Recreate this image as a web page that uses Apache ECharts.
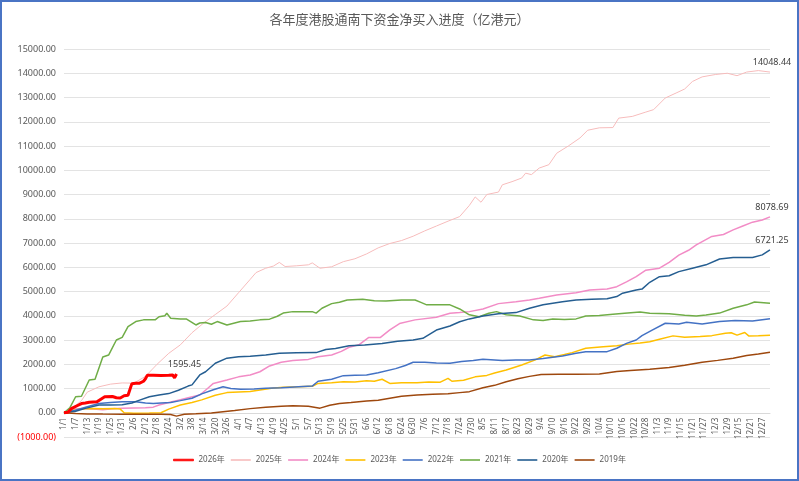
<!DOCTYPE html>
<html>
<head>
<meta charset="utf-8">
<script src="https://cdn.jsdelivr.net/npm/echarts@6/dist/echarts.min.js"></script>
<style>
  html, body { margin: 0; padding: 0; background: #fff; }
  #box { width: 799px; height: 481px; box-sizing: border-box; border: 2px solid #4a74c4; }
  #chart { width: 795px; height: 477px; }
</style>
</head>
<body>
<div id="box"><div id="chart"></div></div>
<script>
// 日期类目 (非闰年)
const monthDays = [31, 28, 31, 30, 31, 30, 31, 31, 30, 31, 30, 31]
const days = []
monthDays.forEach((n, m) => {
  for (let d = 1; d <= n; d++) days.push((m + 1) + '/' + d)
})

const years = ['2026年', '2025年', '2024年', '2023年', '2022年', '2021年', '2020年', '2019年']

// [日序号, 累计净买入(亿港元)]
const s2026 = [[0,0],[2,20],[4,180],[5,260],[7,300],[9,380],[11,400],[13,430],[15,440],[17,450],[19,560],[21,660],[25,670],[27,620],[29,610],[31,700],[33,720],[35,1200],[37,1220],[39,1220],[41,1300],[42,1400],[43,1550],[46,1550],[50,1540],[54,1550],[56,1560],[57,1440],[58,1595.45]]

const s2025 = [[0,0],[6,300],[9,500],[12,850],[18,1070],[24,1180],[30,1230],[36,1220],[42,1500],[48,2000],[54,2450],[60,2800],[66,3300],[72,3700],[78,4050],[84,4400],[90,4950],[96,5500],[99,5780],[104,5960],[108,6050],[111,6200],[114,6030],[120,6060],[126,6100],[128,6180],[132,5960],[138,6020],[144,6230],[150,6350],[156,6550],[162,6800],[168,6980],[174,7100],[180,7280],[186,7500],[192,7700],[198,7900],[204,8090],[209,8550],[212,8900],[215,8680],[218,9000],[224,9100],[226,9400],[231,9530],[236,9680],[238,9880],[241,9820],[245,10090],[250,10230],[254,10700],[260,11000],[266,11330],[270,11650],[276,11750],[283,11760],[286,12150],[293,12220],[300,12400],[304,12500],[310,12980],[316,13200],[320,13350],[324,13660],[329,13850],[336,13950],[342,14000],[347,13900],[352,14050],[358,14110],[364,14048.44]]

const s2024 = [[0,0],[5,150],[10,180],[15,150],[20,120],[25,160],[30,190],[36,200],[42,210],[46,230],[49,320],[54,420],[59,520],[64,620],[70,730],[74,1000],[77,1210],[84,1350],[90,1480],[96,1560],[101,1690],[106,1930],[112,2080],[118,2150],[126,2200],[131,2310],[138,2380],[143,2530],[147,2700],[152,2800],[157,3100],[163,3100],[168,3420],[173,3680],[181,3830],[192,3940],[199,4100],[204,4130],[209,4170],[216,4280],[224,4500],[233,4580],[240,4650],[245,4720],[254,4860],[264,4950],[271,5060],[280,5100],[285,5200],[290,5400],[295,5610],[300,5880],[307,5960],[312,6200],[317,6500],[322,6700],[326,6920],[330,7100],[334,7270],[340,7350],[345,7540],[350,7700],[355,7860],[360,7950],[364,8078.69]]

const s2023 = [[0,0],[4,80],[8,150],[14,180],[20,170],[26,180],[29,150],[31,0],[36,-20],[44,-10],[50,0],[54,150],[60,320],[66,420],[71,530],[78,720],[84,830],[90,860],[96,880],[101,940],[107,1010],[113,1050],[121,1070],[128,1090],[131,1210],[138,1240],[144,1280],[150,1270],[156,1320],[160,1300],[164,1380],[168,1210],[174,1240],[182,1240],[188,1270],[194,1260],[198,1420],[200,1300],[206,1340],[212,1480],[218,1540],[222,1640],[228,1760],[236,1970],[243,2180],[248,2380],[253,2310],[258,2400],[262,2480],[269,2660],[278,2720],[285,2760],[291,2830],[297,2880],[302,2930],[307,3030],[314,3170],[320,3110],[328,3140],[334,3180],[341,3280],[344,3300],[347,3200],[351,3310],[353,3170],[358,3180],[364,3200]]

const s2022 = [[0,0],[6,100],[12,250],[18,380],[24,420],[30,450],[37,450],[42,400],[46,380],[50,400],[55,420],[60,500],[66,600],[71,780],[77,950],[82,1070],[86,1000],[91,970],[98,980],[104,1010],[112,1030],[121,1070],[128,1100],[131,1300],[138,1380],[144,1530],[150,1550],[156,1560],[162,1650],[171,1820],[176,1950],[180,2080],[186,2080],[192,2050],[199,2040],[205,2110],[211,2150],[216,2210],[226,2150],[233,2180],[240,2180],[247,2240],[257,2340],[264,2450],[269,2520],[280,2520],[285,2660],[290,2860],[295,3000],[298,3180],[303,3400],[310,3690],[317,3660],[321,3730],[329,3660],[338,3760],[346,3800],[355,3780],[364,3880]]

const s2021 = [[0,0],[3,200],[6,660],[9,680],[13,1350],[16,1380],[20,2300],[23,2380],[27,3000],[30,3110],[33,3550],[37,3760],[41,3830],[47,3830],[49,3960],[52,4000],[53,4100],[55,3900],[60,3870],[63,3870],[68,3620],[70,3700],[73,3720],[76,3650],[79,3760],[84,3620],[87,3680],[91,3760],[96,3780],[101,3830],[106,3860],[110,3980],[113,4110],[118,4170],[128,4170],[130,4110],[133,4310],[138,4500],[142,4560],[146,4650],[154,4680],[160,4620],[166,4610],[174,4650],[181,4650],[184,4550],[187,4450],[193,4450],[199,4450],[204,4280],[209,4040],[214,3960],[219,4100],[223,4170],[228,4040],[235,3990],[242,3830],[247,3800],[252,3870],[258,3850],[264,3870],[269,3990],[276,4010],[283,4060],[289,4100],[297,4150],[302,4100],[312,4080],[320,4020],[326,3990],[331,4030],[338,4110],[345,4310],[352,4450],[356,4570],[364,4520]]

const s2020 = [[0,0],[6,60],[11,180],[18,320],[24,320],[30,330],[35,400],[39,520],[44,660],[49,730],[54,790],[59,930],[64,1100],[66,1150],[70,1560],[73,1690],[78,2040],[84,2250],[90,2310],[96,2330],[104,2380],[111,2450],[120,2470],[130,2480],[135,2610],[140,2650],[147,2760],[155,2790],[164,2860],[172,2950],[180,3000],[185,3070],[192,3410],[199,3580],[204,3750],[209,3870],[216,3990],[224,4080],[233,4130],[240,4310],[247,4450],[257,4580],[264,4650],[272,4680],[280,4700],[285,4790],[288,4930],[295,5060],[298,5100],[302,5380],[307,5610],[312,5650],[317,5820],[324,5960],[331,6100],[338,6340],[345,6400],[355,6400],[360,6510],[364,6721.25]]

const s2019 = [[0,0],[6,-30],[12,-50],[20,-55],[30,-60],[40,-60],[50,-60],[55,-70],[58,-140],[62,-60],[68,-40],[76,-10],[82,40],[88,90],[96,170],[104,230],[112,270],[118,290],[126,270],[132,190],[137,310],[142,380],[148,420],[156,480],[162,520],[168,600],[174,680],[182,730],[190,760],[198,780],[204,830],[209,870],[216,1030],[222,1130],[228,1280],[234,1400],[240,1500],[246,1580],[255,1590],[264,1590],[276,1600],[285,1700],[292,1740],[302,1790],[312,1870],[320,1960],[329,2080],[337,2160],[345,2250],[352,2360],[358,2420],[364,2494]]

const colors = ['#ff0000', '#f7bcbc', '#f28cc6', '#ffc000', '#4472c4', '#70ad47', '#255e91', '#9e480e']
const widths = [3, 1, 1.5, 1.5, 1.5, 1.5, 1.5, 1.5]
const allData = [s2026, s2025, s2024, s2023, s2022, s2021, s2020, s2019]
const labelled = [true, true, true, false, false, false, true, false]

const font = '"Noto Sans", "Noto Sans CJK SC", sans-serif'

const gridTop = 47
const gridBottom = 42
const chartH = 477
const yMin = -1000
const yMax = 15000
// x轴放在 0 值处
const zeroShift = (chartH - gridTop - gridBottom) * (0 - yMin) / (yMax - yMin)

const series = years.map((name, i) => {
  const pts = allData[i]
  const data = pts.map((p, k) => {
    if (labelled[i] && k === pts.length - 1) {
      return {
        value: p,
        label: {
          show: true,
          position: 'top',
          distance: 5,
          offset: i === 0 ? [8, 0] : [2, 0],
          formatter: p[1].toFixed(2),
          color: '#404040',
          fontSize: 9,
          fontFamily: font
        }
      }
    }
    return p
  })
  return {
    name,
    type: 'line',
    data,
    symbol: 'circle',
    symbolSize: 0,
    showSymbol: true,
    showAllSymbol: true,
    lineStyle: { color: colors[i], width: widths[i] },
    itemStyle: { color: colors[i] },
    z: i === 0 ? 10 : 2,
    animation: false
  }
})

const legendData = years.map((name, i) => ({
  name,
  icon: 'rect',
  itemStyle: i === 0 ? { borderWidth: 0.8, borderColor: colors[0] } : { borderWidth: 0 }
}))

const chart = echarts.init(document.getElementById('chart'))
chart.setOption({
  animation: false,
  textStyle: { fontFamily: font },
  title: {
    text: '各年度港股通南下资金净买入进度（亿港元）',
    left: 'center',
    top: 7,
    textStyle: { fontSize: 13, fontWeight: 'normal', color: '#595959', fontFamily: font }
  },
  legend: {
    bottom: 10,
    left: 'center',
    data: legendData,
    itemWidth: 20,
    itemHeight: 1.6,
    itemGap: 6,
    textStyle: { fontSize: 8, color: '#595959' }
  },
  grid: { left: 62, right: 27, top: gridTop, bottom: gridBottom },
  xAxis: {
    type: 'category',
    data: days,
    boundaryGap: false,
    offset: -zeroShift,
    axisLine: { onZero: false, lineStyle: { color: '#d9d9d9' } },
    axisTick: { show: false },
    axisLabel: { interval: 5, rotate: 90, fontSize: 8, color: '#595959', margin: 5 },
    splitLine: { show: false }
  },
  yAxis: {
    type: 'value',
    min: yMin,
    max: yMax,
    interval: 1000,
    axisLine: { show: false },
    axisTick: { show: false },
    splitLine: { lineStyle: { color: '#e3e3e3', width: 1 } },
    axisLabel: {
      fontSize: 9,
      margin: 8,
      color: (v) => (v < 0 ? '#ff0000' : '#595959'),
      formatter: (v) => (v < 0 ? '(' + Math.abs(v).toFixed(2) + ')' : v.toFixed(2))
    }
  },
  series
})
</script>
</body>
</html>
